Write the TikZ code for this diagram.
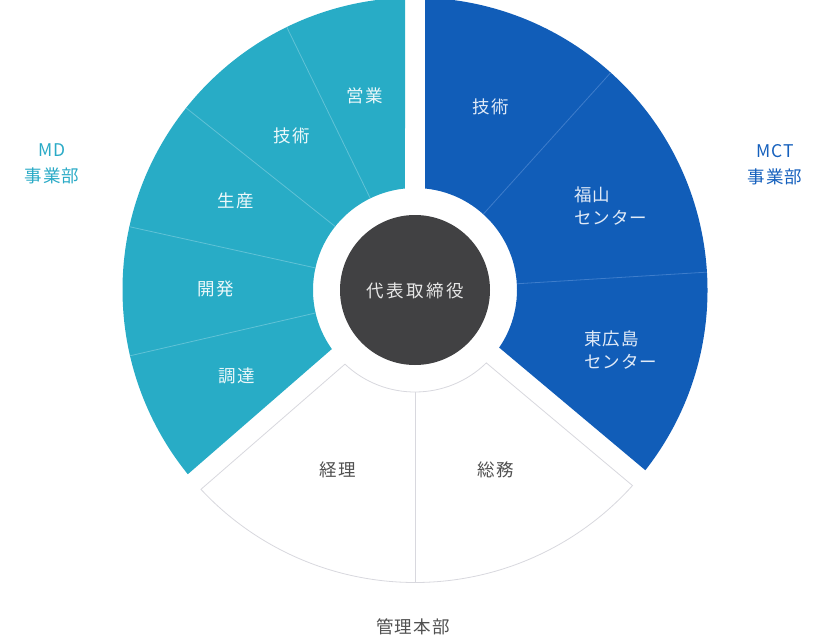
\documentclass[tikz,border=0pt]{standalone}
\usepackage{fontspec}
\newfontfamily\jp[LetterSpace=6]{Noto Sans CJK JP}
\newfontfamily\jpc[LetterSpace=14]{Noto Sans CJK JP}
\definecolor{cyanF}{RGB}{40,172,198}
\definecolor{cyanL}{RGB}{96,194,214}
\definecolor{blueF}{RGB}{17,93,184}
\definecolor{blueL}{RGB}{62,125,203}
\definecolor{darkC}{RGB}{65,65,67}
\definecolor{grayLine}{RGB}{216,216,222}
\definecolor{grayText}{RGB}{80,80,80}
\definecolor{cyTxt}{RGB}{236,248,250}
\definecolor{blTxt}{RGB}{224,234,247}
\definecolor{ctrTxt}{RGB}{230,230,230}
\definecolor{mdTxt}{RGB}{42,170,198}
\definecolor{mctTxt}{RGB}{21,96,189}
\tikzset{
  txt/.style={inner sep=0pt, align=center, font=\jp\fontsize{17.5}{22.5}\selectfont},
  cyt/.style={txt, text=cyTxt},
  blt/.style={txt, text=blTxt},
  grt/.style={txt, text=grayText},
  ctr/.style={inner sep=0pt, font=\jpc\fontsize{17.5}{22}\selectfont, text=ctrTxt},
  lab/.style={inner sep=0pt, align=center, font=\jp\fontsize{17.5}{26}\selectfont},
  cydiv/.style={draw=cyanL, line width=0.8pt},
  bldiv/.style={draw=blueL, line width=0.8pt},
  grdiv/.style={draw=grayLine, line width=0.8pt}
}
\begin{document}
\begin{tikzpicture}[x=1pt,y=1pt]
\useasboundingbox (-415,-353) rectangle (411,290);
% radii: outer 292.5, inner 102, gap half width 10 -> 1.96 / 5.63 deg
% MCT sector (blue): -40 .. 90
\fill[blueF] (-38.04:292.5pt) arc[start angle=-38.04, end angle=88.04, radius=292.5pt]
  -- (84.37:102pt) arc[start angle=84.37, end angle=-34.37, radius=102pt] -- cycle;
% MD sector (cyan): 90 .. 221
\fill[cyanF] (91.96:292.5pt) arc[start angle=91.96, end angle=219.04, radius=292.5pt]
  -- (215.37:102pt) arc[start angle=215.37, end angle=95.63, radius=102pt] -- cycle;
% Kanri sector (white): 221 .. 320
\filldraw[fill=white, draw=grayLine, line width=0.8pt]
  (222.96:292.5pt) arc[start angle=222.96, end angle=318.04, radius=292.5pt]
  -- (314.37:102pt) arc[start angle=314.37, end angle=226.63, radius=102pt] -- cycle;
% dividers
\foreach \a in {116,141.5,167.5,193} \draw[cydiv] (\a:102pt) -- (\a:292.5pt);
\foreach \a in {48,3.5} \draw[bldiv] (\a:102pt) -- (\a:292.5pt);
\draw[grdiv] (270:102pt) -- (270:292.5pt);
% centre
\fill[darkC] (0,0) circle[radius=75pt];
\node[ctr] (daihyo) at (0,-0.5) {代表取締役};
% MD texts
\node[cyt] (eigyo) at (-50,194) {営業};
\node[cyt] (gijutsuA) at (-123,154) {技術};
\node[cyt] (seisan) at (-179,89) {生産};
\node[cyt] (kaihatsu) at (-199,1) {開発};
\node[cyt] (chotatsu) at (-178,-86) {調達};
% MCT texts
\node[blt] (gijutsuB) at (76,183) {技術};
\node[blt, anchor=west, align=left] (fukuyama) at (159,84) {福山\\センター};
\node[blt, anchor=west, align=left] (higashi) at (169,-60) {東広島\\センター};
% Kanri texts
\node[grt] (keiri) at (-77,-180) {経理};
\node[grt] (somu) at (80.5,-180) {総務};
% group labels
\node[lab, text=mdTxt] (md) at (-363,126) {MD\\事業部};
\node[lab, text=mctTxt] (mct) at (360,125) {MCT\\事業部};
\node[grt] (kanri) at (-2,-337) {管理本部};
\end{tikzpicture}
\end{document}
